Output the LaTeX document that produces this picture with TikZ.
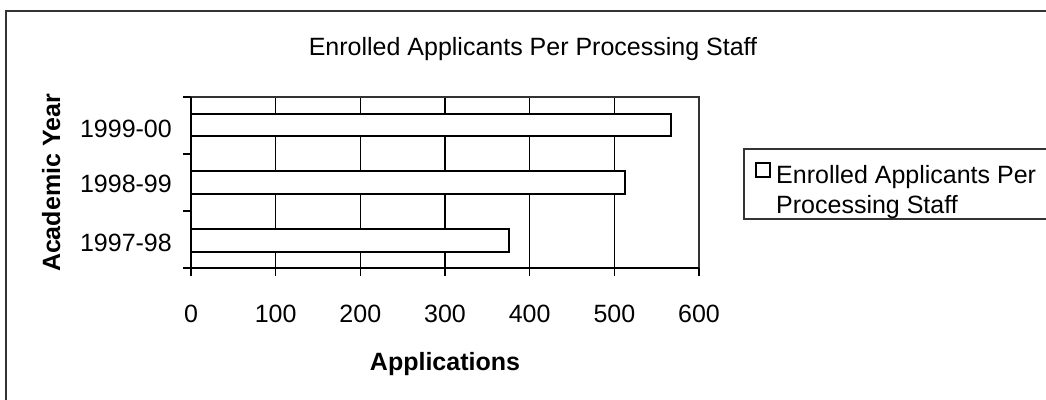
\documentclass[tikz,border=0pt]{standalone}
\usepackage{fontspec}
\setmainfont{Liberation Sans}
\begin{document}
\begin{tikzpicture}[x=1pt,y=-1pt,
  txt/.style={inner sep=0pt, font=\fontsize{25}{30}\selectfont},
  btxt/.style={inner sep=0pt, font=\fontsize{25}{30}\selectfont\bfseries},
  frameline/.style={draw=black!80, line width=1.5pt},
  gridline/.style={draw=black, line width=1.1pt},
  axisline/.style={draw=black, line width=1.8pt},
  barbox/.style={draw=black, line width=2.6pt, fill=white}]
\useasboundingbox (0,0) rectangle (1046,399);
\clip (0,0) rectangle (1046,399);
\fill[white] (0,0) rectangle (1046,399);
% outer chart border
\draw[frameline] (6,420) -- (6,11) -- (1070,11);
% title
\node[txt, anchor=base] (title) at (533,55) {Enrolled Applicants Per Processing Staff};
% plot area
\coordinate (pbl) at (191,268);
\coordinate (ptr) at (699,97);
\fill[white] (pbl) rectangle (ptr);
\foreach \v in {1,...,5} {
  \draw[gridline] ({191+\v*84.67},97) -- ({191+\v*84.67},268);
}
\draw[frameline] (191,97) -- (699,97) -- (699,268);
% bars
\draw[barbox] (191,114) rectangle (671,136);
\draw[barbox] (191,171) rectangle (625,194);
\draw[barbox] (191,229) rectangle (509,252);
% axes
\draw[axisline] (191,97) -- (191,268) -- (699,268);
\foreach \y in {97,154,211,268} { \draw[axisline, line width=1.2pt] (183,\y) -- (191,\y); }
\foreach \v in {0,...,6} {
  \draw[axisline, line width=1.2pt] ({191+\v*84.67},268) -- ({191+\v*84.67},276);
  \pgfmathtruncatemacro{\lab}{\v*100}
  \node[txt, anchor=base] (xl\v) at ({191+\v*84.67},322) {\lab};
}
% category labels
\node[txt, anchor=base east] (y1) at (172,137) {1999-00};
\node[txt, anchor=base east] (y2) at (172,192) {1998-99};
\node[txt, anchor=base east] (y3) at (172,251) {1997-98};
% axis titles
\node[btxt, rotate=90, anchor=base] (ytitle) at (60,183) {Academic Year};
\node[btxt, anchor=base] (xtitle) at (445,370) {Applications};
% legend
\draw[frameline, fill=white] (1070,149) -- (744,149) -- (744,219) -- (1070,219);
\draw[draw=black, line width=2pt, fill=white] (756,163) rectangle (770,177);
\node[txt, anchor=base west] (leg1) at (776,183) {Enrolled Applicants Per};
\node[txt, anchor=base west] (leg2) at (776,213) {Processing Staff};
\end{tikzpicture}
\end{document}
